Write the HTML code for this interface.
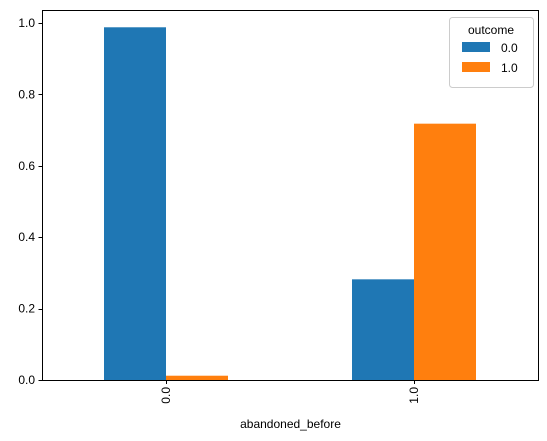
<!DOCTYPE html>
<html><head><meta charset="utf-8"><style>
body{margin:0;background:#fff;}
svg{font-family:"Liberation Sans","DejaVu Sans",sans-serif;display:block}
</style></head><body>
<svg id="chart" width="547" height="441">
<g id="plot"></g>
</svg>
<script>
const categories=["0.0","1.0"];
const series0=[0.988,0.282];
const series1=[0.012,0.718];
const seriesNames=["0.0","1.0"];
const yTicks=[0,0.2,0.4,0.6,0.8,1.0];
const tickLabels=["0.0","0.2","0.4","0.6","0.8","1.0"];

const L=42,R=539,T=10,B=380;
const y0=380,unit=357;
const y=v=>y0-v*unit;
const groupW=248,startX=166;
const xc=i=>startX+i*groupW;
const bw=62;
const colors=["#1f77b4","#ff7f0e"];
const NS="http://www.w3.org/2000/svg";
const g=document.getElementById('plot');
function mk(tag,attrs,parent){const e=document.createElementNS(NS,tag);for(const k in attrs)e.setAttribute(k,attrs[k]);(parent||g).appendChild(e);return e;}

[series0,series1].forEach((s,si)=>{
  s.forEach((v,i)=>{
    const r=mk('rect',{x:xc(i)+(si-1)*bw,y:y(v),width:bw,height:y0-y(v),fill:colors[si]});
    
    
  });
});
const fr=mk('rect',{x:L+0.5,y:T+0.5,width:R-L-1,height:B-T,fill:'none',stroke:'#000','stroke-width':1});


yTicks.forEach((v,i)=>{
  const yy=Math.round(y(v))+0.5;
  mk('line',{x1:L-3.5,x2:L,y1:yy,y2:yy,stroke:'#000','stroke-width':1});
  const t=mk('text',{x:L-7,y:y(v)+4,'text-anchor':'end','font-size':12,fill:'#000'});
  t.textContent=tickLabels[i];
  
  
});
categories.forEach((c,i)=>{
  mk('line',{x1:xc(i)+0.5,x2:xc(i)+0.5,y1:B,y2:B+4,stroke:'#000','stroke-width':1});
  const t=mk('text',{x:0,y:0,'text-anchor':'end','font-size':12,fill:'#000',transform:`translate(${xc(i)+4},${B+7}) rotate(-90)`});
  t.textContent=c;
  
  
});
const xl=mk('text',{x:(L+R)/2,y:428,'text-anchor':'middle','font-size':12});
xl.textContent='abandoned_before';


const lg=mk('g',{});


mk('rect',{x:449.5,y:17.5,width:84,height:70,rx:3,fill:'#fff',stroke:'#ccc','stroke-width':1},lg);
const lt=mk('text',{x:491,y:34,'text-anchor':'middle','font-size':12},lg);
lt.textContent='outcome';
seriesNames.forEach((n,i)=>{
  const e=mk('g',{},lg);
  
  
  mk('rect',{x:462,y:42+i*20,width:28,height:10,fill:colors[i]},e);
  const t=mk('text',{x:501,y:52+i*20,'font-size':12},e);
  t.textContent=n;
});
</script>
</body></html>
